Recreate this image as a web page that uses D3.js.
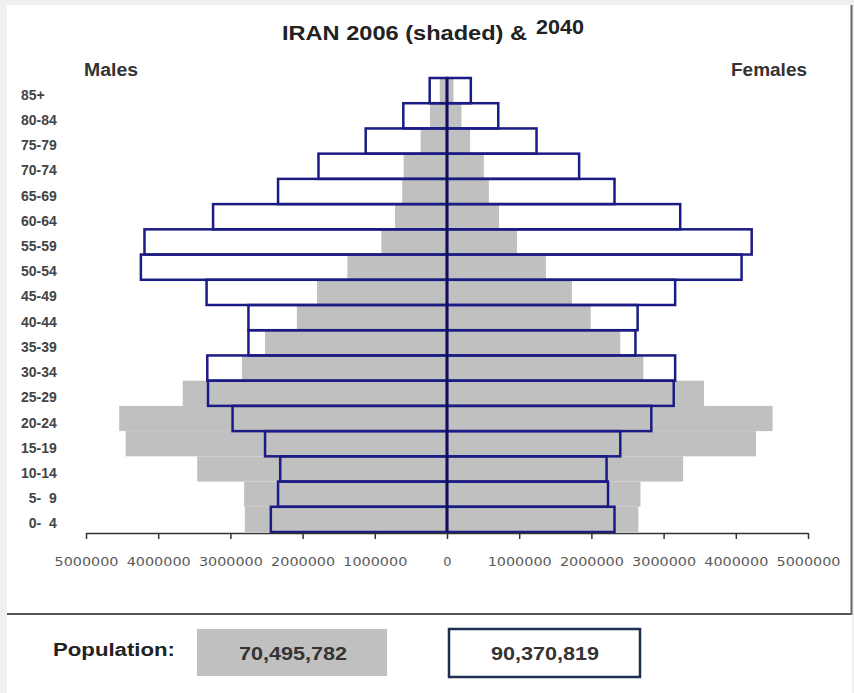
<!DOCTYPE html>
<html>
<head>
<meta charset="utf-8">
<script src="https://d3js.org/d3.v7.min.js"></script>
<style>
  body { margin: 0; background: #f0f0f0; }
  text { font-family: "Liberation Sans", Arial, sans-serif; }
</style>
</head>
<body>
<div id="graph"></div>

<script>

// age groups, top of the pyramid first
var ageGroups = ["85+", "80-84", "75-79", "70-74", "65-69", "60-64", "55-59", "50-54", "45-49",
                 "40-44", "35-39", "30-34", "25-29", "20-24", "15-19", "10-14", " 5- 9", " 0- 4"];

// 2006 (shaded)
var males2006   = [100000, 235000, 365000, 600000, 620000, 720000, 910000, 1380000, 1800000,
                   2080000, 2520000, 2840000, 3660000, 4540000, 4450000, 3460000, 2810000, 2800000];
var females2006 = [90000, 200000, 320000, 510000, 580000, 720000, 970000, 1370000, 1730000,
                   1990000, 2400000, 2720000, 3560000, 4510000, 4280000, 3270000, 2680000, 2650000];

// 2040 (outlined)
var males2040   = [240000, 605000, 1126000, 1780000, 2340000, 3240000, 4190000, 4240000, 3330000,
                   2750000, 2750000, 3320000, 3310000, 2970000, 2520000, 2310000, 2340000, 2440000];
var females2040 = [330000, 710000, 1240000, 1830000, 2320000, 3230000, 4220000, 4080000, 3160000,
                   2640000, 2610000, 3160000, 3140000, 2830000, 2400000, 2210000, 2230000, 2320000];

var tickValues = [-5000000, -4000000, -3000000, -2000000, -1000000, 0, 1000000, 2000000, 3000000, 4000000, 5000000];
var totals = ["70,495,782", "90,370,819"];

var width = 854, height = 693;
var navy = "#1b1b85", shade = "#c0c0c0";

var svg = d3.select("#graph")
  .append("svg")
    .attr("width", width)
    .attr("height", height);

// white page + frame
svg.append("rect").attr("x", 7).attr("y", 5).attr("width", 845).attr("height", 688).style("fill", "#fff");
svg.append("line").attr("x1", 7).attr("x2", 852).attr("y1", 614).attr("y2", 614)
  .style("stroke", "#555").style("stroke-width", 2);
svg.append("line").attr("x1", 851.5).attr("x2", 851.5).attr("y1", 5).attr("y2", 615)
  .style("stroke", "#666").style("stroke-width", 2);

// scales
var x = d3.scaleLinear().domain([-5000000, 5000000]).range([86, 808]);
var y = d3.scaleBand().domain(ageGroups).range([78, 532]).padding(0);

var rows = ageGroups.map(function(a, i) {
  return { age: a, m06: males2006[i], f06: females2006[i], m40: males2040[i], f40: females2040[i] };
});

// shaded 2006 bars
svg.selectAll(".m06").data(rows).enter().append("rect")
  .attr("x", function(d) { return x(-d.m06); })
  .attr("y", function(d) { return y(d.age); })
  .attr("width", function(d) { return x(0) - x(-d.m06); })
  .attr("height", y.bandwidth())
  .style("fill", shade);
svg.selectAll(".f06").data(rows).enter().append("rect")
  .attr("x", x(0))
  .attr("y", function(d) { return y(d.age); })
  .attr("width", function(d) { return x(d.f06) - x(0); })
  .attr("height", y.bandwidth())
  .style("fill", shade);

// outlined 2040 bars
svg.selectAll(".m40").data(rows).enter().append("rect")
  .attr("x", function(d) { return x(-d.m40); })
  .attr("y", function(d) { return y(d.age); })
  .attr("width", function(d) { return x(0) - x(-d.m40); })
  .attr("height", y.bandwidth())
  .style("fill", "none").style("stroke", navy).style("stroke-width", 2.5);
svg.selectAll(".f40").data(rows).enter().append("rect")
  .attr("x", x(0))
  .attr("y", function(d) { return y(d.age); })
  .attr("width", function(d) { return x(d.f40) - x(0); })
  .attr("height", y.bandwidth())
  .style("fill", "none").style("stroke", navy).style("stroke-width", 2.5);

// centre line
svg.append("line")
  .attr("x1", x(0)).attr("x2", x(0))
  .attr("y1", y.range()[0]).attr("y2", y.range()[1])
  .style("stroke", "#10105a").style("stroke-width", 2.5);

// x axis
var axis = svg.append("g")
  .attr("transform", "translate(0," + 533 + ")")
  .call(d3.axisBottom(x).tickValues(tickValues).tickSize(6).tickSizeOuter(0).tickPadding(18)
    .tickFormat(function(d) { return Math.abs(d); }));
axis.select(".domain").style("stroke", "#333").style("stroke-width", 1.5);
axis.selectAll(".tick line").style("stroke", "#333").style("stroke-width", 1.5);
axis.selectAll(".tick text")
  .style("font-family", "'DejaVu Sans', Verdana, sans-serif")
  .style("font-size", "13px")
  .style("fill", "#5a5a5a")
  .attr("textLength", 64).attr("lengthAdjust", "spacingAndGlyphs")
  .filter(function(d) { return d === 0; }).attr("textLength", null);

// age labels (leading spaces kept as no-break spaces)
svg.selectAll(".age").data(ageGroups).enter().append("text")
  .attr("x", 21)
  .attr("y", function(d) { return y(d) + y.bandwidth() / 2 + 9; })
  .style("font-size", "14px").style("font-weight", "bold").style("fill", "#444")
  .text(function(d) { return d.replace(/ /g, "\u00a0\u00a0"); });

// titles
var title = svg.append("text").attr("y", 40).style("font-size", "21px").style("font-weight", "bold").style("fill", "#222");
title.append("tspan").attr("x", 282).attr("textLength", 245).attr("lengthAdjust", "spacingAndGlyphs").text("IRAN  2006 (shaded) &");
title.append("tspan").attr("x", 536).attr("y", 34).attr("textLength", 48).attr("lengthAdjust", "spacingAndGlyphs").text("2040");

svg.append("text").attr("x", 84).attr("y", 76).attr("textLength", 54).attr("lengthAdjust", "spacingAndGlyphs")
  .style("font-size", "18px").style("font-weight", "bold").style("fill", "#333").text("Males");
svg.append("text").attr("x", 731).attr("y", 76).attr("textLength", 76).attr("lengthAdjust", "spacingAndGlyphs")
  .style("font-size", "18px").style("font-weight", "bold").style("fill", "#333").text("Females");

// population totals
svg.append("text").attr("x", 53).attr("y", 656).attr("textLength", 122).attr("lengthAdjust", "spacingAndGlyphs")
  .style("font-size", "18px").style("font-weight", "bold").style("fill", "#222").text("Population:");

svg.append("rect").attr("x", 197).attr("y", 629).attr("width", 190).attr("height", 47).style("fill", shade);
svg.append("rect").attr("x", 449).attr("y", 629).attr("width", 191).attr("height", 48)
  .style("fill", "#fff").style("stroke", "#1f2f4f").style("stroke-width", 2.5);

svg.selectAll(".total").data(totals).enter().append("text")
  .attr("x", function(d, i) { return i === 0 ? 293 : 545; })
  .attr("y", 660)
  .attr("text-anchor", "middle")
  .attr("textLength", 108).attr("lengthAdjust", "spacingAndGlyphs")
  .style("font-size", "18px").style("font-weight", "bold").style("fill", "#333")
  .text(function(d) { return d; });

</script>
</body>
</html>
